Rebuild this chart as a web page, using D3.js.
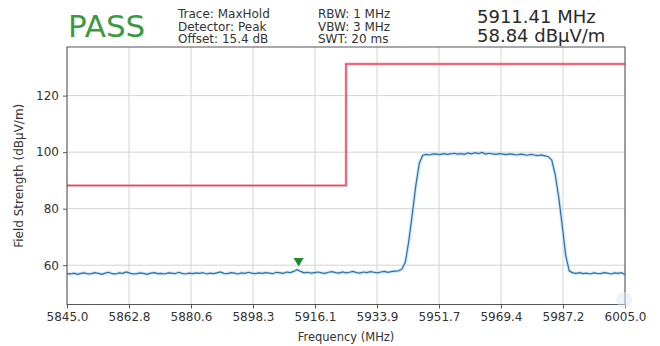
<!DOCTYPE html>
<html><head><meta charset="utf-8">
<script src="https://cdn.jsdelivr.net/npm/d3@7"></script>
<style>
html,body{margin:0;padding:0;background:#fff;}
svg text{font-family:"DejaVu Sans",sans-serif;}
</style></head>
<body><svg id="c" width="660" height="346"></svg>
<script>
// ---- data ----
const freqStart = 5845, freqStep = 1;
const traceValues = [
57.0,56.9,57.2,56.8,57.1,57.3,56.9,57.0,57.4,57.1,
56.8,57.2,57.5,57.0,56.9,57.3,57.1,57.6,57.2,56.9,
57.0,57.3,57.1,56.8,57.2,57.4,57.0,57.1,56.9,57.3,
57.2,57.0,57.5,57.1,56.9,57.2,57.0,57.3,57.1,57.4,
56.9,57.2,57.0,57.3,57.6,57.1,57.0,57.4,57.2,56.9,
57.3,57.1,57.5,57.2,57.0,57.3,57.1,57.4,57.2,57.0,
57.5,57.3,57.1,57.6,57.4,57.8,58.4,57.8,57.3,57.5,
57.2,57.4,57.6,57.3,57.1,57.5,57.7,57.4,57.2,57.6,
57.3,57.5,57.8,57.4,57.2,57.6,57.4,57.7,57.5,57.3,
57.6,57.8,57.5,57.7,57.9,58.0,58.6,61.0,68.5,78.0,
88.0,96.0,98.9,99.2,99.0,99.4,99.3,99.1,99.5,99.2,
99.4,99.6,99.3,99.5,99.2,99.7,99.4,99.8,99.5,99.9,
99.3,99.6,99.4,99.2,99.5,99.3,99.1,99.4,99.2,99.0,
99.3,99.1,98.9,99.2,99.0,98.8,99.0,98.7,98.4,97.2,
92.0,84.0,74.0,63.5,58.0,57.3,57.1,57.4,57.0,57.2,
56.9,57.3,57.1,57.0,57.4,57.2,56.9,57.3,57.1,57.4,
56.6];
const limitFreq = [5845, 5925, 5925, 6005];
const limitValues = [88.2, 88.2, 131.2, 131.2];
const markerFreq = [5911.41];
const markerValues = [58.84];
const xTicks = [5845, 5862.78, 5880.56, 5898.33, 5916.11, 5933.89, 5951.67, 5969.44, 5987.22, 6005];
const xTickLabels = ["5845.0","5862.8","5880.6","5898.3","5916.1","5933.9","5951.7","5969.4","5987.2","6005.0"];
const yTicks = [60, 80, 100, 120];
const infoLeft = ["Trace: MaxHold","Detector: Peak","Offset: 15.4 dB"];
const infoMid = ["RBW: 1 MHz","VBW: 3 MHz","SWT: 20 ms"];
const readout = ["5911.41 MHz","58.84 dBµV/m"];
const verdict = "PASS";

// ---- layout ----
const svg = d3.select("#c");
const L = 67, R = 625, T = 47, B = 304.5;
const x = d3.scaleLinear().domain([5845, 6005]).range([L, R]);
const y = d3.scaleLinear().domain([46.1, 137.2]).range([B, T]);
const trace = traceValues.map((v, i) => [freqStart + i * freqStep, v]);

// grid
const g = svg.append("g");
g.selectAll(".gx").data(xTicks).join("line")
  .attr("x1", d => x(d)).attr("x2", d => x(d)).attr("y1", T).attr("y2", B)
  .attr("stroke", "#d4d4d4").attr("stroke-width", 1);
g.selectAll(".gy").data(yTicks).join("line")
  .attr("x1", L).attr("x2", R).attr("y1", d => y(d)).attr("y2", d => y(d))
  .attr("stroke", "#d4d4d4").attr("stroke-width", 1);

// limit line
const line = d3.line().x(d => x(d[0])).y(d => y(d[1]));
svg.append("path").datum(limitFreq.map((f, i) => [f, limitValues[i]]))
  .attr("d", line).attr("fill", "none").attr("stroke", "#f7b6c0").attr("stroke-width", 3.2).attr("opacity", 0.6);
svg.append("path").datum(limitFreq.map((f, i) => [f, limitValues[i]]))
  .attr("d", line).attr("fill", "none").attr("stroke", "#e8455e").attr("stroke-width", 1.5);

// trace
svg.append("path").datum(trace).attr("d", line).attr("fill", "none")
  .attr("stroke", "#bfe0f5").attr("stroke-width", 3.5).attr("opacity", 0.7);
svg.append("path").datum(trace).attr("d", line).attr("fill", "none")
  .attr("stroke", "#2b6fa8").attr("stroke-width", 1.2);

// marker
svg.selectAll(".mk").data(markerFreq).join("path")
  .attr("d", (d, i) => {
    const cx = x(d), cy = y(markerValues[i]) - 2;
    return `M${cx - 5},${cy - 8.5}L${cx + 5},${cy - 8.5}L${cx},${cy}Z`;
  })
  .attr("fill", "#1e8a2e");

// axes frame
svg.append("rect").attr("x", L).attr("y", T).attr("width", R - L).attr("height", B - T)
  .attr("fill", "none").attr("stroke", "#555").attr("stroke-width", 1);

const xAxis = svg.append("g").attr("transform", `translate(0,${B})`)
  .call(d3.axisBottom(x).tickValues(xTicks).tickFormat((d, i) => xTickLabels[i]).tickSize(4).tickPadding(4));
const yAxis = svg.append("g").attr("transform", `translate(${L},0)`)
  .call(d3.axisLeft(y).tickValues(yTicks).tickFormat(d3.format("d")).tickSize(4).tickPadding(4));
[xAxis, yAxis].forEach(a => {
  a.select(".domain").remove();
  a.selectAll(".tick line").attr("stroke", "#555");
  a.selectAll(".tick text").attr("fill", "#333").style("font-size", "12px").style("font-family", "DejaVu Sans");
});

// axis labels
svg.append("text").attr("x", (L + R) / 2).attr("y", 341).attr("text-anchor", "middle")
  .attr("fill", "#333").style("font-size", "11.5px").text("Frequency (MHz)");
svg.append("text").attr("transform", `translate(23,${(T + B) / 2}) rotate(-90)`).attr("text-anchor", "middle")
  .attr("fill", "#333").style("font-size", "12px").text("Field Strength (dBµV/m)");

// header
svg.append("text").attr("x", 68).attr("y", 37).attr("fill", "#3a9a40").style("font-size", "31px").text(verdict);
svg.selectAll(".il").data(infoLeft).join("text").attr("x", 178).attr("y", (d, i) => 18 + i * 12.5)
  .attr("fill", "#333").style("font-size", "12px").text(d => d);
svg.selectAll(".im").data(infoMid).join("text").attr("x", 318).attr("y", (d, i) => 18 + i * 12.5)
  .attr("fill", "#333").style("font-size", "12px").text(d => d);
svg.selectAll(".ro").data(readout).join("text").attr("x", 477).attr("y", (d, i) => 23 + i * 19)
  .attr("fill", "#2a2a2a").style("font-size", "18px").text(d => d);

// faint watermark blob bottom right
svg.append("circle").attr("cx", 624).attr("cy", 300).attr("r", 8).attr("fill", "#dbeaf7").attr("opacity", 0.5);
</script></body></html>
